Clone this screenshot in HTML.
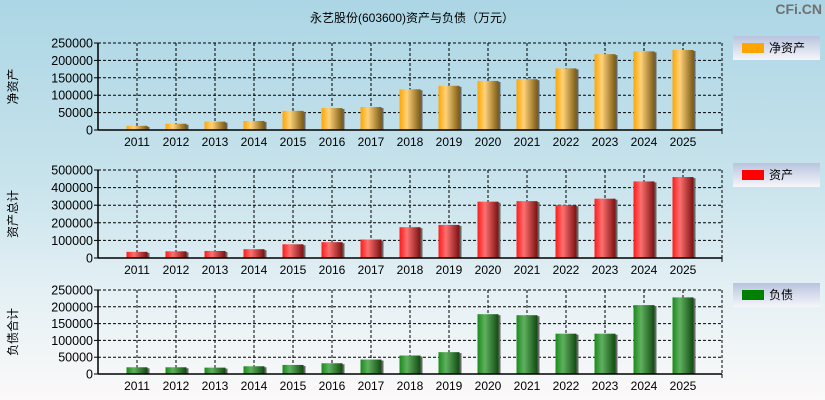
<!DOCTYPE html>
<html><head><meta charset="utf-8"><style>
html,body{margin:0;padding:0}
body{width:825px;height:400px;overflow:hidden;background:linear-gradient(#acd6e5 0%,#c8e3ec 45%,#e6f1f5 75%,#fbf9f9 100%);font-family:"Liberation Sans","Noto Sans CJK SC",sans-serif}
svg{display:block}
</style></head><body>
<svg id="chart" width="825" height="400" xmlns="http://www.w3.org/2000/svg" font-family="Liberation Sans, Noto Sans CJK SC, sans-serif">
<defs>
<linearGradient id="gO" x1="0" x2="1"><stop offset="0" stop-color="#ffa500"/><stop offset="0.35" stop-color="#ffd27a"/><stop offset="1" stop-color="#7a5a12"/></linearGradient>
<linearGradient id="gR" x1="0" x2="1"><stop offset="0" stop-color="#ff1a1a"/><stop offset="0.35" stop-color="#ff7070"/><stop offset="1" stop-color="#7a1010"/></linearGradient>
<linearGradient id="gG" x1="0" x2="1"><stop offset="0" stop-color="#1a8a1a"/><stop offset="0.35" stop-color="#60b060"/><stop offset="1" stop-color="#104a10"/></linearGradient>
<linearGradient id="gL" x1="0" x2="0" y1="0" y2="1"><stop offset="0" stop-color="#b8c4de"/><stop offset="1" stop-color="#f6f6fa"/></linearGradient>
</defs>
<text x="412" y="22" font-size="12" text-anchor="middle" fill="#000">永艺股份(603600)资产与负债（万元）</text>
<text x="822" y="14" font-size="14" font-weight="bold" text-anchor="end" fill="#707070">CFi.CN</text>
</svg>
<script>
const years=["2011","2012","2013","2014","2015","2016","2017","2018","2019","2020","2021","2022","2023","2024","2025"];
const netAssets=[12000,18000,24000,26000,55000,63000,66000,117000,127000,141000,146000,177000,218000,226000,230000];
const totalAssets=[35000,38000,40000,50000,78000,90000,105000,175000,188000,320000,323000,300000,337000,435000,460000];
const totalLiab=[20000,20000,19000,23000,27000,32000,43000,55000,65000,178000,175000,120000,120000,205000,228000];
const ticks1=[0,50000,100000,150000,200000,250000];
const ticks2=[0,100000,200000,300000,400000,500000];
const ticks3=[0,50000,100000,150000,200000,250000];
const svg=document.getElementById('chart');
const NS='http://www.w3.org/2000/svg';
function mk(t,a,p){const e=document.createElementNS(NS,t);for(const k in a)e.setAttribute(k,a[k]);(p||svg).appendChild(e);return e;}
const L=98,R=722,slot=(R-L)/16,bw=21;
function xs(i){return L+slot*(i+1);}
function panel(key,top,bot,vals,ticks,max,fill,legColor,legText,legY,yTitle){
  const g=mk('g',{});
  
  
  const ys=v=>bot-(v/max)*(bot-top);
  ticks.forEach(t=>{
    const y=ys(t);
    if(t>0){const gl=mk('line',{x1:L,x2:R,y1:y,y2:y,stroke:'#000','stroke-dasharray':'3,2','stroke-width':1},g);
    }
    const tk=mk('line',{x1:L-4,x2:L,y1:y,y2:y,stroke:'#000'},g);
    const tx=mk('text',{x:L-5,y:y+4.5,'font-size':12.5,'text-anchor':'end',fill:'#000'},g);
    tx.textContent=t;
    
    
  });
  years.forEach((yr,i)=>{
    const x=xs(i);
    const vl=mk('line',{x1:x,x2:x,y1:top,y2:bot,stroke:'#000','stroke-dasharray':'3,2'},g);
    
    const tx=mk('text',{x:x,y:bot+16,'font-size':12,'text-anchor':'middle',fill:'#000'},g);
    tx.textContent=yr;
    
    
  });
  mk('line',{x1:R,x2:R,y1:top,y2:bot,stroke:'#000','stroke-dasharray':'3,2'},g);
  mk('line',{x1:L,x2:R,y1:top,y2:top,stroke:'#000','stroke-dasharray':'3,2'},g);
  vals.forEach((v,i)=>{
    const x=xs(i)-bw/2,y=ys(v);
    mk('rect',{x:x+bw,y:y+1,width:2,height:bot-y-1,fill:'#666'},g);
    const b=mk('rect',{x:x,y:y,width:bw,height:bot-y,fill:fill},g);
    
    
  });
  mk('line',{x1:L,x2:L,y1:top,y2:bot,stroke:'#000','stroke-width':1.5},g);
  mk('line',{x1:L,x2:R,y1:bot,y2:bot,stroke:'#000','stroke-width':1.5},g);
  mk('line',{x1:R,x2:R,y1:bot,y2:bot+4,stroke:'#000'},g);
  const yt=mk('text',{x:0,y:0,'font-size':12,'text-anchor':'middle',fill:'#000',transform:`translate(17,${(top+bot)/2}) rotate(-90)`},g);
  yt.textContent=yTitle;
  
  
  const lg=mk('g',{},g);
  
  
  mk('rect',{x:733,y:legY,width:87,height:24,fill:'url(#gL)'},lg);
  mk('rect',{x:742,y:legY+7,width:22,height:10,fill:legColor},lg);
  const lt=mk('text',{x:769,y:legY+16,'font-size':12,fill:'#000'},lg);
  lt.textContent=legText;
}
panel('net-assets',43,130,netAssets,ticks1,250000,'url(#gO)','#ffa500','净资产',36,'净资产');
panel('total-assets',170,258,totalAssets,ticks2,500000,'url(#gR)','#ff0000','资产',163,'资产总计');
panel('total-liabilities',290,374,totalLiab,ticks3,250000,'url(#gG)','#008000','负债',283,'负债合计');
</script>
</body></html>
